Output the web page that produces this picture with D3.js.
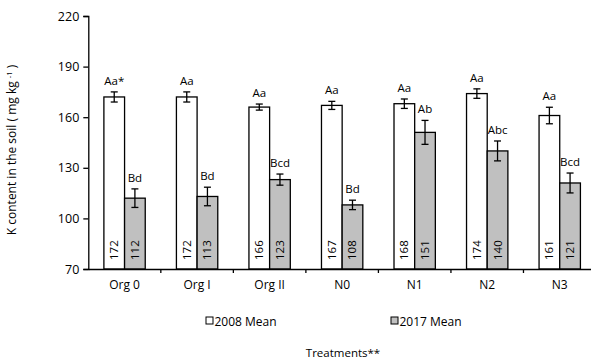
<!DOCTYPE html>
<html>
<head>
<meta charset="utf-8">
<script src="https://cdn.jsdelivr.net/npm/d3@7"></script>
<style>
  html, body { margin: 0; padding: 0; background: #fff; }
  svg { display: block; font-family: "Open Sans", "Liberation Sans", sans-serif; }
</style>
</head>
<body>
<svg id="chart" width="591" height="360"></svg>
<script>
// Treatments and soil K content (mg kg-1)
const categories = ["Org 0", "Org I", "Org II", "N0", "N1", "N2", "N3"];
const seriesNames = ["2008 Mean", "2017 Mean"];
const mean2008 = [172, 172, 166, 167, 168, 174, 161];
const mean2017 = [112, 113, 123, 108, 151, 140, 121];
const err2008 = [3.0, 3.0, 1.8, 2.4, 2.8, 2.8, 4.9];
const err2017 = [5.5, 5.5, 3.3, 2.8, 7.1, 5.9, 5.9];
const letters2008 = ["Aa*", "Aa", "Aa", "Aa", "Aa", "Aa", "Aa"];
const letters2017 = ["Bd", "Bd", "Bcd", "Bd", "Ab", "Abc", "Bcd"];
const yTicks = [70, 100, 130, 160, 190, 220];

const fills = ["#ffffff", "#c0c0c0"];

const svg = d3.select("#chart");
const plotLeft = 88.3, plotRight = 596, plotTop = 16, plotBottom = 269;

const x = d3.scaleBand().domain(categories).range([plotLeft, plotRight]).padding(0);
const xs = d3.scaleBand().domain(seriesNames).range([0, x.bandwidth()])
  .paddingInner(0).paddingOuter(0.754);
const y = d3.scaleLinear().domain([70, 220]).range([plotBottom, plotTop]);

const rows = categories.map((c, i) => [
  { cat: c, s: seriesNames[0], v: mean2008[i], e: err2008[i], lab: letters2008[i], fill: fills[0] },
  { cat: c, s: seriesNames[1], v: mean2017[i], e: err2017[i], lab: letters2017[i], fill: fills[1] }
]).flat();

// Bars
svg.append("g").selectAll("rect").data(rows).join("rect")
  .attr("x", d => x(d.cat) + xs(d.s))
  .attr("y", d => y(d.v))
  .attr("width", xs.bandwidth())
  .attr("height", d => y(70) - y(d.v))
  .attr("fill", d => d.fill)
  .attr("stroke", "#000")
  .attr("stroke-width", 1.3);

// Error bars
const eg = svg.append("g").attr("stroke", "#000").attr("stroke-width", 1.3);
rows.forEach(d => {
  const cx = x(d.cat) + xs(d.s) + xs.bandwidth() / 2;
  const y1 = y(d.v + d.e), y0 = y(d.v - d.e);
  eg.append("line").attr("x1", cx).attr("x2", cx).attr("y1", y1).attr("y2", y0);
  eg.append("line").attr("x1", cx - 3.5).attr("x2", cx + 3.5).attr("y1", y1).attr("y2", y1);
  eg.append("line").attr("x1", cx - 3.5).attr("x2", cx + 3.5).attr("y1", y0).attr("y2", y0);
});

// Significance letters above error bars
svg.append("g").selectAll("text").data(rows).join("text")
  .attr("x", d => x(d.cat) + xs(d.s) + xs.bandwidth() / 2)
  .attr("y", d => y(d.v + d.e) - 7)
  .attr("text-anchor", "middle")
  .attr("font-size", 11.5)
  .attr("fill", "#000")
  .text(d => d.lab);

// Value labels inside bars, rotated
svg.append("g").selectAll("text").data(rows).join("text")
  .attr("transform", d => {
    const cx = x(d.cat) + xs(d.s) + xs.bandwidth() / 2;
    return `translate(${cx + 4},${plotBottom - 9}) rotate(-90)`;
  })
  .attr("text-anchor", "start")
  .attr("font-size", 11.5)
  .attr("fill", "#000")
  .text(d => d.v);

// Y axis
const yAxis = svg.append("g").attr("transform", `translate(${plotLeft},0)`)
  .call(d3.axisLeft(y).tickValues(yTicks).tickSize(5).tickPadding(4));
yAxis.select(".domain").attr("stroke", "#000").attr("stroke-width", 1.3);
yAxis.selectAll(".tick line").attr("stroke", "#000").attr("stroke-width", 1.3);
yAxis.selectAll(".tick text").attr("font-size", 12.5).attr("fill", "#000")
  .attr("font-family", "'Open Sans', sans-serif");

// X axis: category labels, boundary ticks
const xAxis = svg.append("g").attr("transform", `translate(0,${plotBottom})`)
  .call(d3.axisBottom(x).tickSize(0).tickPadding(11));
xAxis.select(".domain").attr("stroke", "#000").attr("stroke-width", 1.3);
xAxis.selectAll(".tick text").attr("font-size", 12).attr("fill", "#000")
  .attr("font-family", "'Open Sans', sans-serif");
svg.append("g").selectAll("line").data(categories.slice(1)).join("line")
  .attr("x1", d => x(d)).attr("x2", d => x(d))
  .attr("y1", plotBottom).attr("y2", plotBottom + 4)
  .attr("stroke", "#000").attr("stroke-width", 1.3);

// Y axis title
const yt = svg.append("text")
  .attr("transform", "translate(16,150) rotate(-90)")
  .attr("text-anchor", "middle")
  .attr("font-size", 12)
  .attr("fill", "#000");
yt.append("tspan").text("K content in the soil ( mg kg ");
yt.append("tspan").attr("font-size", 7.5).attr("dy", -4).text("-1");
yt.append("tspan").attr("dy", 4).text(" )");

// Legend
const legendX = [206, 391];
const lg = svg.append("g");
seriesNames.forEach((s, i) => {
  lg.append("rect").attr("x", legendX[i]).attr("y", 317)
    .attr("width", 7).attr("height", 7)
    .attr("fill", fills[i]).attr("stroke", "#000").attr("stroke-width", 1);
  lg.append("text").attr("x", legendX[i] + 8.5).attr("y", 325.5)
    .attr("font-size", 12).attr("fill", "#000").text(s);
});

// X axis title
svg.append("text")
  .attr("x", 343).attr("y", 357)
  .attr("text-anchor", "middle")
  .attr("font-size", 11.5)
  .attr("fill", "#000")
  .text("Treatments**");
</script>
</body>
</html>
